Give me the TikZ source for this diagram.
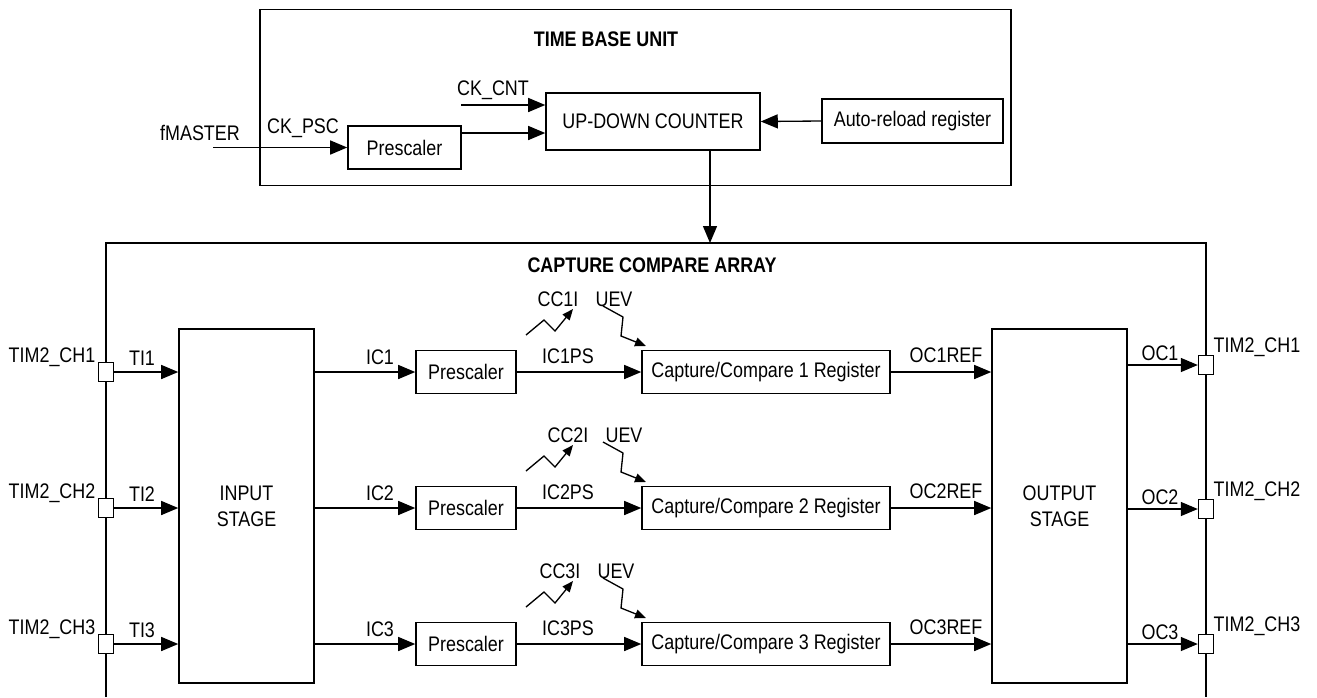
\documentclass[tikz,border=0pt]{standalone}
\usepackage{fontspec}
\setmainfont{Liberation Sans}[FakeStretch=0.85]
\usetikzlibrary{arrows.meta}

\tikzset{
  box/.style={draw,line width=0.9pt,inner sep=0pt,align=center,
    font=\fontsize{12}{14.8}\selectfont},
  pin/.style={draw,fill=white,line width=0.8pt,inner sep=0pt,
    minimum width=0.3cm,minimum height=0.38cm},
  lbl/.style={inner sep=0pt,font=\fontsize{12}{14}\selectfont},
  ttl/.style={inner sep=0pt,font=\fontsize{12}{14}\selectfont\bfseries},
  sig/.style={line width=0.75pt,-{Triangle[length=0.34cm,width=0.28cm]}},
  evt/.style={line width=0.75pt,-{Triangle[length=0.22cm,width=0.18cm]}},
  frame/.style={line width=0.9pt},
}

\begin{document}
\begin{tikzpicture}[x=0.02cm,y=-0.02cm]
  \useasboundingbox (0,0) rectangle (1317,697);

  % time base unit
  \node[box,minimum width=15.02cm,minimum height=3.52cm] (tbu) at (635.5,97.5) {};
  \node[ttl] (tbutitle) at (606,39) {TIME BASE UNIT};
  \node[box,minimum width=2.26cm,minimum height=0.86cm] (tbpsc) at (404.5,147.5) {Prescaler};
  \node[box,minimum width=4.28cm,minimum height=1.14cm] (counter) at (653,121.5) {UP-DOWN COUNTER};
  \node[box,minimum width=3.62cm,minimum height=0.88cm] (arr) at (912.5,121) {Auto-reload register};
  \coordinate (fin) at (213,147.5);
  \coordinate (cntin) at (461,105);
  \node[lbl] (fmaster) at (200,133) {fMASTER};
  \node[lbl] (ckpsc) at (303,128) {CK\_PSC};
  \node[lbl] (ckcnt) at (493,90) {CK\_CNT};
  \draw[sig] (fin) -- (tbpsc.west);
  \draw[sig] (cntin) -- (cntin -| counter.west);
  \draw[sig] ([yshift=0.29cm]tbpsc.east) -- ([yshift=0.29cm]tbpsc.east -| counter.west);
  \draw[sig] (arr.west) -- (counter.east);

  % capture compare array (open at the bottom)
  \coordinate (ccatop) at (710,243);
  \draw[frame] (106,697) -- (106,243) -- (1206,243) -- (1206,697);
  \node[ttl] (ccatitle) at (652,265) {CAPTURE COMPARE ARRAY};
  \draw[sig] (counter.south -| ccatop) -- (ccatop);

  \node[box,minimum width=2.7cm,minimum height=7.08cm] (instage) at (246.5,506) {INPUT\\STAGE};
  \node[box,minimum width=2.7cm,minimum height=7.08cm] (outstage) at (1059.5,506) {OUTPUT\\STAGE};

  % one row per channel
  \foreach \i/\y/\r/\d in {1/372/365/0, 2/508/509/10, 3/644/644/2} {
    \node[pin] (lpin\i) at (106,\y) {};
    \node[pin] (rpin\i) at (1206,\r) {};
    \node[box,minimum width=2cm,minimum height=0.86cm] (psc\i) at (466,\y) {Prescaler};
    \node[box,minimum width=4.96cm,minimum height=0.86cm] (cc\i) at (766,\y) {Capture/Compare \i{} Register};
    \node[lbl] (lch\i) at (52,\y-15) {TIM2\_CH\i};
    \node[lbl] (rch\i) at (1257,\r-18) {TIM2\_CH\i};
    \node[lbl] (ti\i) at (142,\y-14) {TI\i};
    \node[lbl] (ic\i) at (380,\y-15) {IC\i};
    \node[lbl] (icps\i) at (568,\y-16) {IC\i PS};
    \node[lbl] (ocref\i) at (946,\y-17) {OC\i REF};
    \node[lbl] (oc\i) at (1160,\r-12) {OC\i};
    \node[lbl] (cci\i) at (558+\d,\y-73) {CC\i I};
    \node[lbl] (uev\i) at (614+\d,\y-73) {UEV};
    \draw[sig] (lpin\i.east) -- (lpin\i.east -| instage.west);
    \draw[sig] (instage.east |- psc\i) -- (psc\i.west);
    \draw[sig] (psc\i.east) -- (cc\i.west);
    \draw[sig] (cc\i.east) -- (cc\i.east -| outstage.west);
    \draw[sig] (outstage.east |- rpin\i) -- (rpin\i.west);
    % interrupt and update event
    \draw[evt] (526,\y-37) -- (544,\y-52) -- (555,\y-41) -- (573,\y-63);
    \draw[evt] (603,\y-66) -- (623,\y-55) -- (621,\y-36) -- (646,\y-26);
  }
\end{tikzpicture}
\end{document}
